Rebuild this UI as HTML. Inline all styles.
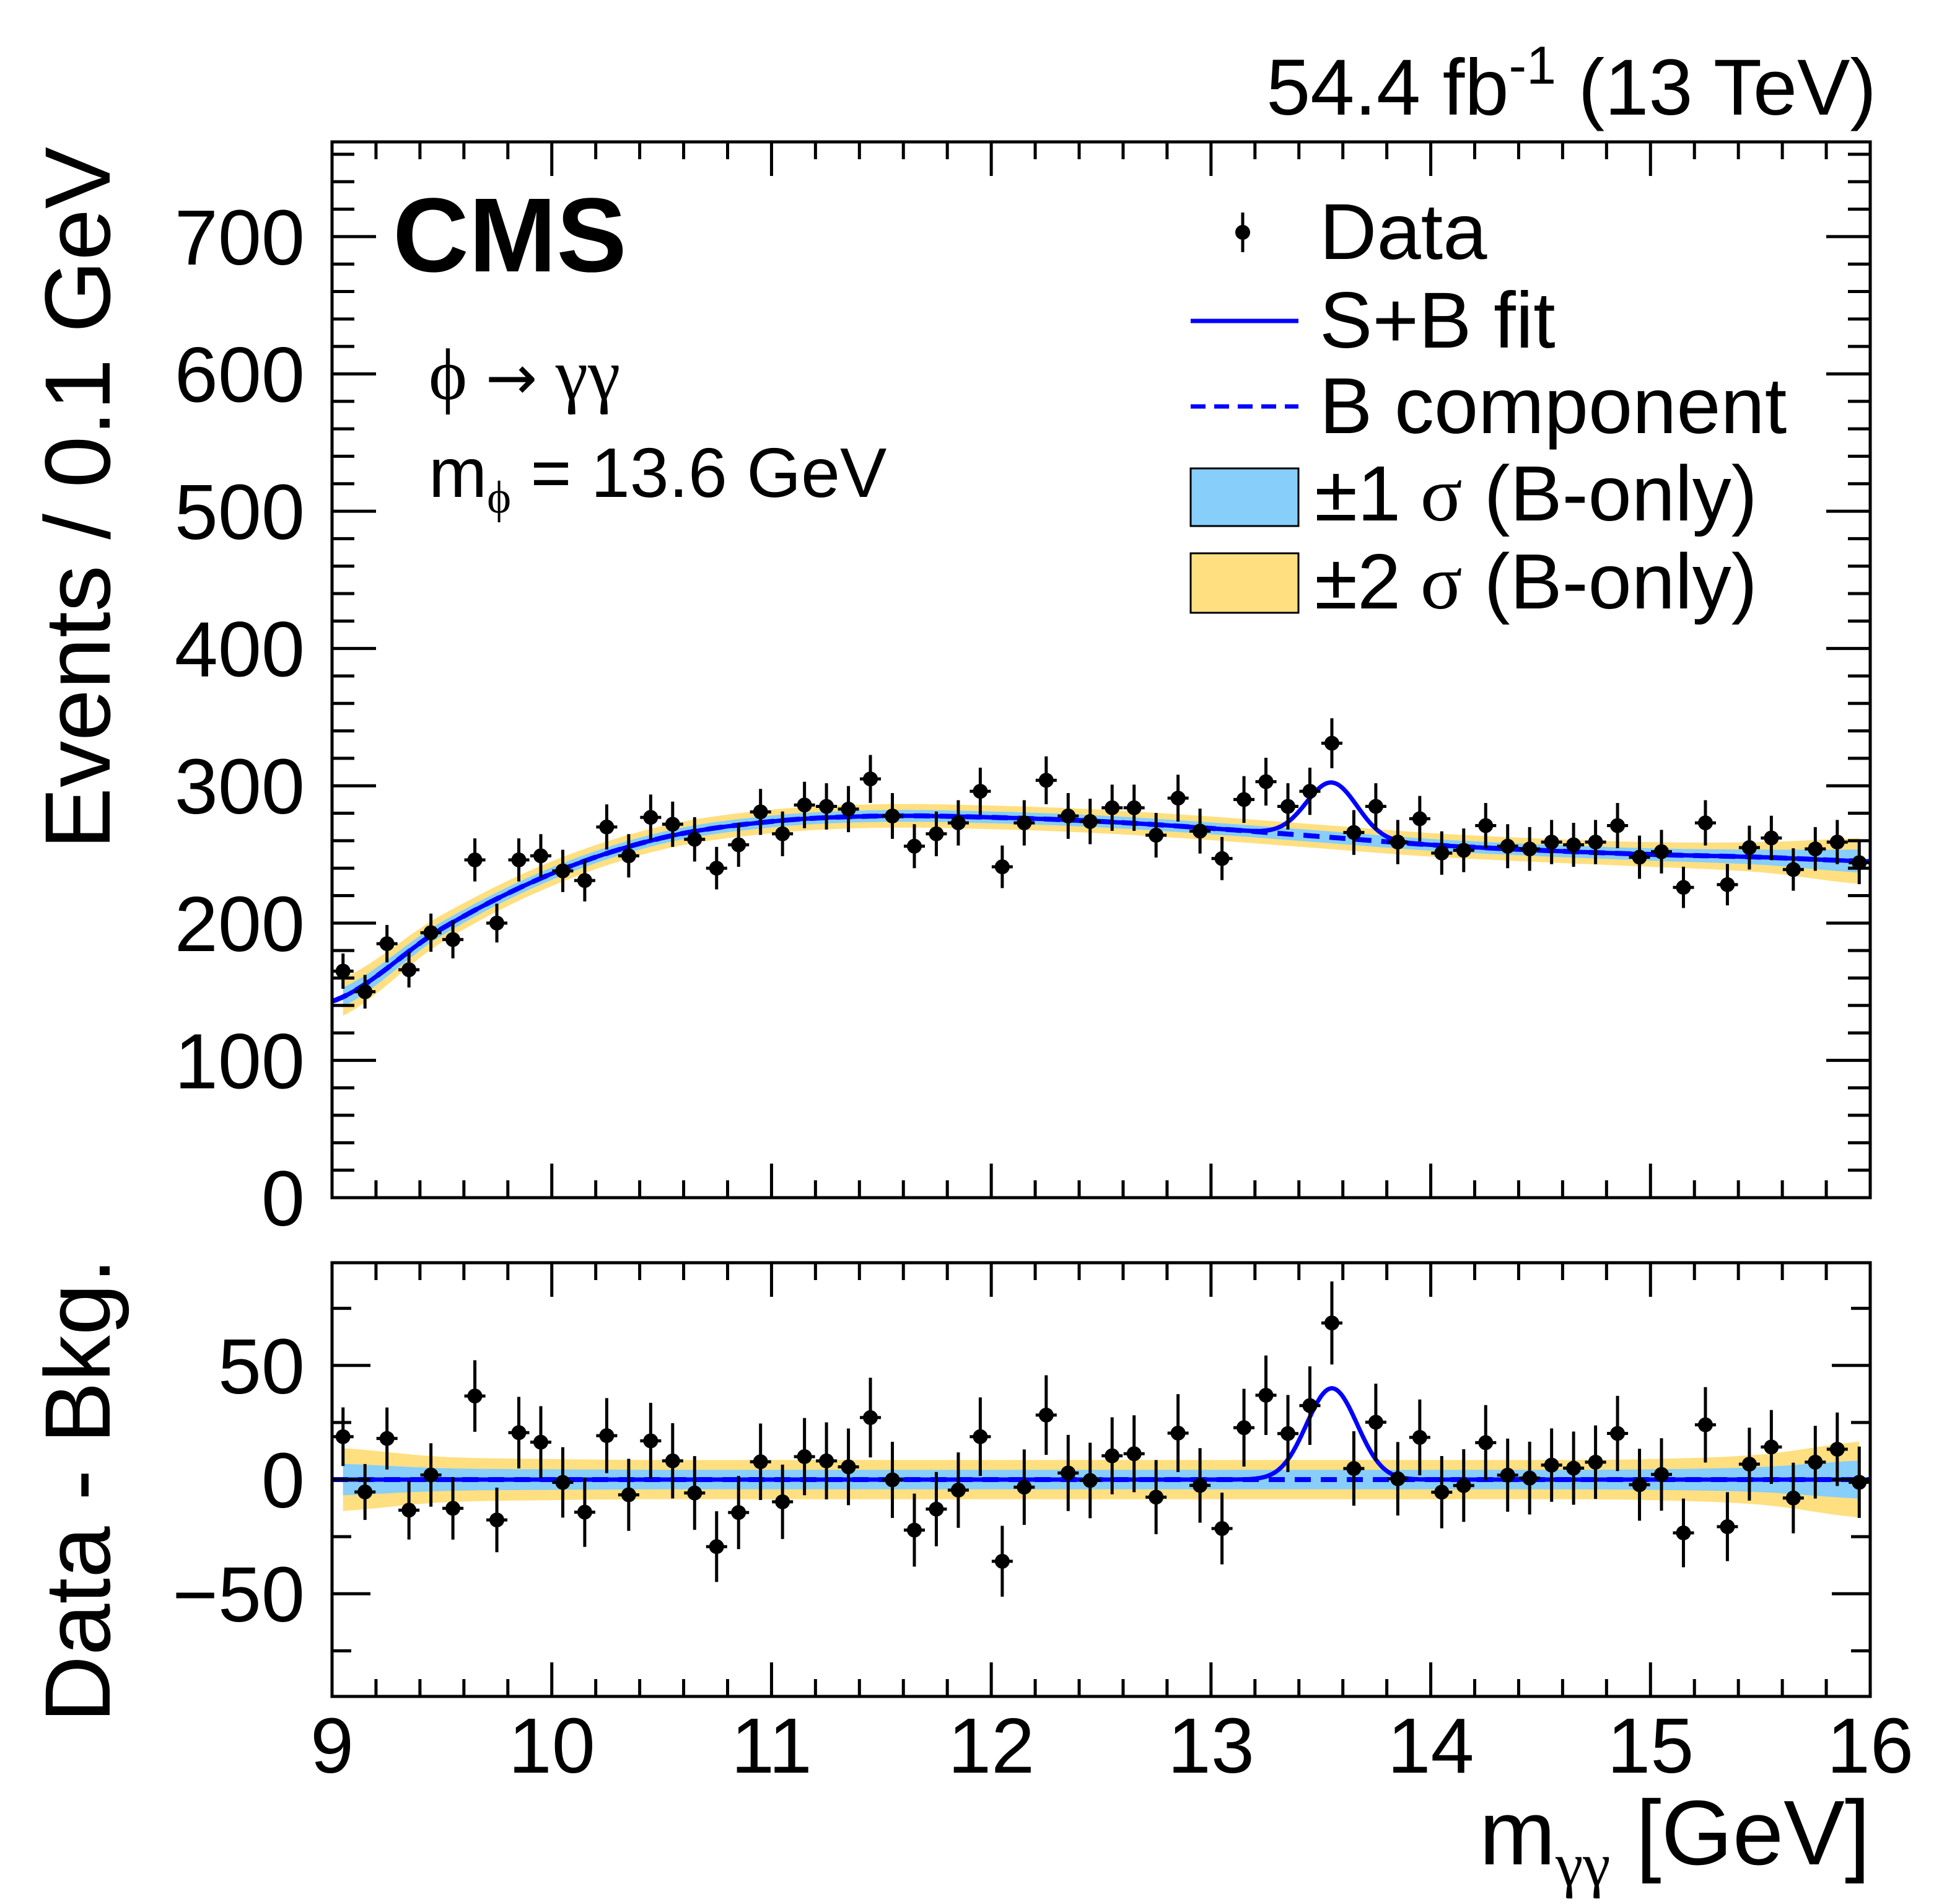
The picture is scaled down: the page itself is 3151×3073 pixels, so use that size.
<!DOCTYPE html>
<html><head><meta charset="utf-8"><style>html,body{margin:0;padding:0;background:#fff}svg{display:block}text{font-family:"Liberation Sans",sans-serif}</style></head>
<body>
<svg id="chart" width="3151" height="3073" viewBox="0 0 3151 3073" xmlns="http://www.w3.org/2000/svg">
<g id="upper"></g>
<g id="lower"></g>
<g id="texts">
<text x="3029" y="185" font-size="128" text-anchor="end">54.4 fb<tspan dy="-50" font-size="86">-1</tspan><tspan dy="50"> (13 TeV)</tspan></text>
<text x="634" y="438" font-size="170" font-weight="bold">CMS</text>
<text x="692" y="644" font-size="118" style="font-family:'Liberation Serif',serif">ϕ <tspan style="font-family:'DejaVu Sans',sans-serif" font-size="100">→</tspan> γγ</text>
<text x="692" y="802" font-size="113">m<tspan dy="25" font-size="74" style="font-family:'Liberation Serif',serif">ϕ</tspan><tspan dy="-25"> = 13.6 GeV</tspan></text>
<text transform="translate(177,237) rotate(-90)" font-size="150" text-anchor="end">Events / 0.1 GeV</text>
<text transform="translate(177,2030) rotate(-90)" font-size="150" text-anchor="end">Data - Bkg.</text>
<text x="3019" y="3009" font-size="148" text-anchor="end">m<tspan dy="34" font-size="100" style="font-family:'Liberation Serif',serif">γγ</tspan><tspan dy="-34"> [GeV]</tspan></text>
</g>
<g id="legend">
<line x1="2006" y1="343" x2="2006" y2="407" stroke="#000" stroke-width="5"/>
<circle cx="2006" cy="375" r="12" fill="#000"/>
<text x="2130" y="418" font-size="128">Data</text>
<line x1="1922" y1="518" x2="2096" y2="518" stroke="#0000ff" stroke-width="7"/>
<text x="2130" y="561" font-size="128">S+B fit</text>
<line x1="1922" y1="656" x2="2096" y2="656" stroke="#0000ff" stroke-width="7" stroke-dasharray="24,14"/>
<text x="2130" y="699" font-size="128">B component</text>
<rect x="1922" y="756" width="174" height="93" fill="#87cefa" stroke="#000" stroke-width="3"/>
<text x="2122" y="840" font-size="126">±1<tspan style="font-family:'Liberation Serif',serif"> σ</tspan> (B-only)</text>
<rect x="1922" y="893" width="174" height="96" fill="#ffdf80" stroke="#000" stroke-width="3"/>
<text x="2122" y="982" font-size="126">±2<tspan style="font-family:'Liberation Serif',serif"> σ</tspan> (B-only)</text>
</g>
</svg>
<script>
const binCenters = [9.05,9.15,9.25,9.35,9.45,9.55,9.65,9.75,9.85,9.95,10.05,10.15,10.25,10.35,10.45,10.55,10.65,10.75,10.85,10.95,11.05,11.15,11.25,11.35,11.45,11.55,11.65,11.75,11.85,11.95,12.05,12.15,12.25,12.35,12.45,12.55,12.65,12.75,12.85,12.95,13.05,13.15,13.25,13.35,13.45,13.55,13.65,13.75,13.85,13.95,14.05,14.15,14.25,14.35,14.45,14.55,14.65,14.75,14.85,14.95,15.05,15.15,15.25,15.35,15.45,15.55,15.65,15.75,15.85,15.95];
const dataCounts = [165,150,185,166,193,188,246,200,246,249,238,231,270,249,277,272,261,240,257,281,265,286,285,283,305,278,256,265,273,296,241,273,304,278,274,284,284,264,291,267,247,290,303,285,296,331,266,285,259,276,251,253,271,256,254,259,257,259,271,248,252,226,273,228,255,262,239,254,259,244];
const bkgNodesX = [9.0,9.5,10.0,10.5,11.0,11.5,12.0,12.5,13.0,13.5,14.0,14.5,15.0,15.5,16.0];
const bkgNodesY = [143,196,236,262,274,278,277,274,269,263,257,253,250,248,245];
const sigma1Nodes = [7,5,4.5,4.3,4.3,4.3,4.3,4.3,4.3,4.3,4.3,4.3,4.5,5.5,8.5];
const sigPeak = [13.55];
const sigAmp = [40];
const sigWidth = [0.115];
const upperYTicks = [0,100,200,300,400,500,600,700];
const lowerYTicks = [-50,0,50];
const xTicks = [9,10,11,12,13,14,15,16];

const NS="http://www.w3.org/2000/svg";
const X0=536,X1=3019,XMIN=9,XMAX=16;
const U_TOP=229,U_BOT=1933,U_MIN=0,U_MAX=769;
const L_TOP=2038,L_BOT=2738,L_MIN=-95,L_MAX=95;
const xs=v=>X0+(v-XMIN)/(XMAX-XMIN)*(X1-X0);
const yu=v=>U_BOT-(v-U_MIN)/(U_MAX-U_MIN)*(U_BOT-U_TOP);
const yl=v=>L_BOT-(v-L_MIN)/(L_MAX-L_MIN)*(L_BOT-L_TOP);
function mk(tag,attrs,parent){const e=document.createElementNS(NS,tag);for(const k in attrs)e.setAttribute(k,attrs[k]);parent.appendChild(e);return e;}
function interp(nx,ny,x){
  let i=0;while(i<nx.length-2&&x>nx[i+1])i++;
  const p0=ny[Math.max(i-1,0)],p1=ny[i],p2=ny[i+1],p3=ny[Math.min(i+2,ny.length-1)];
  const t=(x-nx[i])/(nx[i+1]-nx[i]);
  return 0.5*((2*p1)+(-p0+p2)*t+(2*p0-5*p1+4*p2-p3)*t*t+(-p0+3*p1-3*p2+p3)*t*t*t);
}
const bkg=x=>interp(bkgNodesX,bkgNodesY,x);
const s1=x=>interp(bkgNodesX,sigma1Nodes,x);
const sig=x=>sigAmp[0]*Math.exp(-0.5*Math.pow((x-sigPeak[0])/sigWidth[0],2));
const samples=[];for(let i=0;i<=700;i++)samples.push(XMIN+i*(XMAX-XMIN)/700);
const bandSamples=samples.filter(x=>x>=9.05&&x<=15.95);

function bandPath(fc,fw,k,ymap){
  let d='';bandSamples.forEach((x,i)=>{d+=(i?'L':'M')+xs(x).toFixed(1)+','+ymap(fc(x)+k*fw(x)).toFixed(1);});
  for(let i=bandSamples.length-1;i>=0;i--){const x=bandSamples[i];d+='L'+xs(x).toFixed(1)+','+ymap(fc(x)-k*fw(x)).toFixed(1);}
  return d+'Z';
}
function linePath(f,ymap){let d='';samples.forEach((x,i)=>{d+=(i?'L':'M')+xs(x).toFixed(1)+','+ymap(f(x)).toFixed(1);});return d;}

function drawFrame(g,top,bot,ymap,yticks,minorStep,ymin,ymax,majLen,minLen){
  for(let v=XMIN;v<=XMAX+1e-9;v+=0.2){
    const major=Math.abs(v-Math.round(v))<1e-6;const L=major?55:28;const x=xs(v);
    mk('line',{x1:x,y1:bot,x2:x,y2:bot-L,stroke:'#000','stroke-width':5},g);
    mk('line',{x1:x,y1:top,x2:x,y2:top+L,stroke:'#000','stroke-width':5},g);
  }
  const start=Math.ceil(ymin/minorStep)*minorStep;
  for(let v=start;v<=ymax;v+=minorStep){
    const major=yticks.indexOf(Math.round(v))>=0;const L=major?majLen:minLen;const y=ymap(v);
    mk('line',{x1:X0,y1:y,x2:X0+L,y2:y,stroke:'#000','stroke-width':5},g);
    mk('line',{x1:X1,y1:y,x2:X1-L,y2:y,stroke:'#000','stroke-width':5},g);
  }
  mk('rect',{x:X0,y:top,width:X1-X0,height:bot-top,fill:'none',stroke:'#000','stroke-width':5},g);
  yticks.forEach(v=>{
    const t=mk('text',{x:492,y:ymap(v)+45,'font-size':126,'text-anchor':'end'},g);
    
    
    t.textContent=v<0?'\u2212'+Math.abs(v):String(v);
  });
}
function drawPoints(g,vals,ymap,errs){
  binCenters.forEach((x,i)=>{
    const pg=mk('g',{},g);
    
    
    const cx=xs(x),cy=ymap(vals[i]);
    mk('line',{x1:cx,y1:ymap(vals[i]+errs[i]),x2:cx,y2:ymap(vals[i]-errs[i]),stroke:'#000','stroke-width':5},pg);
    mk('line',{x1:cx-17,y1:cy,x2:cx+17,y2:cy,stroke:'#000','stroke-width':5},pg);
    mk('circle',{cx:cx,cy:cy,r:12,fill:'#000'},pg);
  });
}
const errs=dataCounts.map(v=>Math.sqrt(v));
const up=document.getElementById('upper');
let e;
e=mk('path',{d:bandPath(bkg,s1,2,yu),fill:'#ffdf80'},up);


e=mk('path',{d:bandPath(bkg,s1,1,yu),fill:'#87cefa'},up);


e=mk('path',{d:linePath(bkg,yu),fill:'none',stroke:'#0000ff','stroke-width':8,'stroke-dasharray':'26,16'},up);


e=mk('path',{d:linePath(x=>bkg(x)+sig(x),yu),fill:'none',stroke:'#0000ff','stroke-width':7},up);


drawPoints(up,dataCounts,yu,errs);
drawFrame(up,U_TOP,U_BOT,yu,upperYTicks,20,0,U_MAX,71,36);
const lo=document.getElementById('lower');
const zero=()=>0;
e=mk('path',{d:bandPath(zero,s1,2,yl),fill:'#ffdf80'},lo);


e=mk('path',{d:bandPath(zero,s1,1,yl),fill:'#87cefa'},lo);


e=mk('path',{d:linePath(zero,yl),fill:'none',stroke:'#0000ff','stroke-width':8,'stroke-dasharray':'26,16'},lo);


e=mk('path',{d:linePath(sig,yl),fill:'none',stroke:'#0000ff','stroke-width':7},lo);


const resid=dataCounts.map((v,i)=>v-bkg(binCenters[i]));
drawPoints(lo,resid,yl,errs);
drawFrame(lo,L_TOP,L_BOT,yl,lowerYTicks,25,-95,95,62,31);
xTicks.forEach(v=>{
  const t=mk('text',{x:xs(v),y:2861,'font-size':126,'text-anchor':'middle'},lo);
  
  
  t.textContent=String(v);
});
</script>
</body></html>
